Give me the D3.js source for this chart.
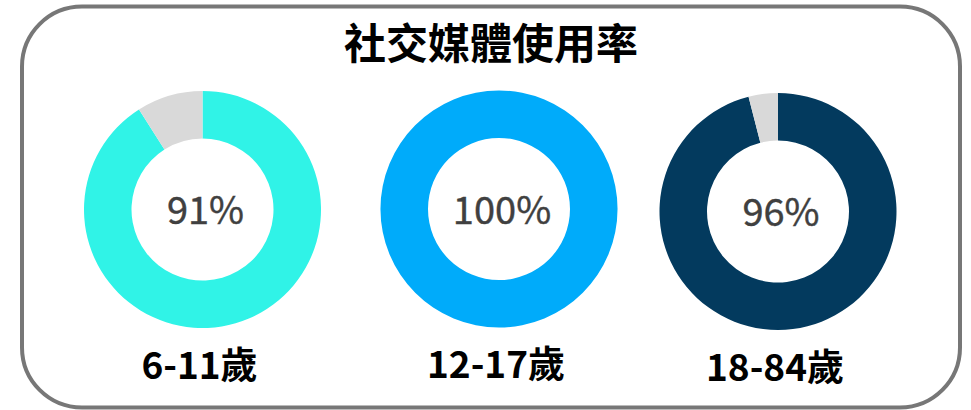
<!DOCTYPE html>
<html>
<head>
<meta charset="utf-8">
<script src="https://cdn.jsdelivr.net/npm/d3@7/dist/d3.min.js"></script>
<style>
  html, body { margin: 0; padding: 0; background: #fff; }
  svg { display: block; }
  text { font-family: "Noto Sans CJK TC", "Noto Sans", sans-serif; }
</style>
</head>
<body>
<div id="chart"></div>
<script>
const title = "社交媒體使用率";
const groups = ["6-11歲", "12-17歲", "18-84歲"];
const usage = [91, 100, 96];
const groupColors = ["#30F3E7", "#00ABFA", "#033A5E"];
const restColor = "#D9D9D9";

const width = 971;
const height = 410;
const outerR = 118.5;
const innerR = 71;

const cx = d3.scaleOrdinal(groups, [202.5, 499, 778]);
const cy = d3.scaleOrdinal(groups, [209.5, 209, 211.5]);
const fill = d3.scaleOrdinal(groups, groupColors);

const svg = d3.select("#chart")
  .append("svg")
  .attr("width", width)
  .attr("height", height);

//frame
svg.append("rect")
  .attr("x", 22)
  .attr("y", 6.5)
  .attr("width", 938)
  .attr("height", 401)
  .attr("rx", 60)
  .attr("fill", "none")
  .attr("stroke", "#777")
  .attr("stroke-width", 4);

//title
svg.append("text")
  .attr("x", 491)
  .attr("y", 59)
  .attr("text-anchor", "middle")
  .attr("font-size", 42)
  .attr("font-weight", "bold")
  .attr("fill", "#000")
  .text(title);

const pie = d3.pie().sort(null).value(d => d.value);
const arc = d3.arc().innerRadius(innerR).outerRadius(outerR);

const data = groups.map((g, i) => ({ group: g, pct: usage[i] }));

const donuts = svg.selectAll("g.donut")
  .data(data)
  .join("g")
  .attr("class", "donut")
  .attr("transform", d => `translate(${cx(d.group)},${cy(d.group)})`);

donuts.selectAll("path")
  .data(d => pie([
    { key: "use", value: d.pct, group: d.group },
    { key: "rest", value: 100 - d.pct, group: d.group }
  ]))
  .join("path")
  .attr("d", arc)
  .attr("fill", d => d.data.key === "use" ? fill(d.data.group) : restColor);

//center %
donuts.append("text")
  .attr("x", 3)
  .attr("y", 14.5)
  .attr("text-anchor", "middle")
  .attr("font-size", 38)
  .attr("fill", "#404040")
  .attr("stroke", "#404040")
  .attr("stroke-width", 0.4)
  .text(d => d.pct + "%");

//group labels
donuts.append("text")
  .attr("x", -3)
  .attr("y", 169)
  .attr("text-anchor", "middle")
  .attr("font-size", 37)
  .attr("font-weight", "bold")
  .attr("fill", "#000")
  .text(d => d.group);
</script>
</body>
</html>
